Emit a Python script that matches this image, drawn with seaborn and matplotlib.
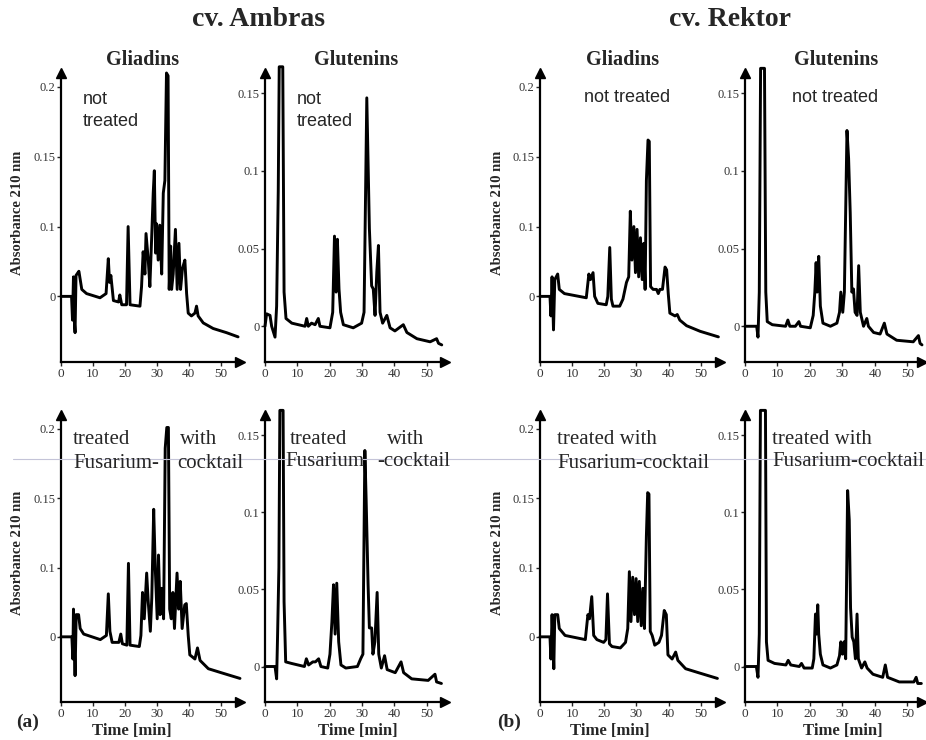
import matplotlib
matplotlib.use('Agg')
import matplotlib.pyplot as plt
from matplotlib.lines import Line2D
import seaborn as sns

sns.set_style('ticks')
plt.rcParams['font.family'] = ['Liberation Serif', 'DejaVu Serif']

# retention time [min] / absorbance 210 nm
# cv. Ambras - gliadins, not treated
amb_gli_nt_t = [0, 3.3, 3.6, 3.9, 4.1, 4.4, 4.7, 5.0, 5.6, 6.5, 8.0, 12.2, 14.1, 14.8, 15.2, 15.6, 16.4, 18.0, 18.4, 19.0,
                20.5, 21.0, 21.6, 24.7, 25.2, 25.7, 26.25, 26.6, 27.3, 27.8, 28.3, 28.85, 29.2, 29.6, 29.9, 30.4, 30.9, 31.5, 32.0, 32.5,
                33.0, 33.5, 33.85, 34.3, 34.6, 35.1, 35.8, 36.35, 36.9, 37.4, 38.0, 38.75, 39.3, 39.8, 40.8, 41.9, 42.4, 42.9, 44.5, 47.6,
                51.8, 55.4]
amb_gli_nt_a = [0.050, 0.050, 0.033, 0.064, 0.035, 0.024, 0.065, 0.066, 0.068, 0.055, 0.052, 0.049, 0.052, 0.077, 0.060, 0.065, 0.047, 0.046, 0.051, 0.044,
                0.044, 0.100, 0.044, 0.043, 0.057, 0.082, 0.066, 0.095, 0.076, 0.057, 0.088, 0.124, 0.140, 0.081, 0.102, 0.076, 0.101, 0.066, 0.124, 0.133,
                0.210, 0.208, 0.055, 0.086, 0.055, 0.066, 0.098, 0.055, 0.088, 0.055, 0.070, 0.076, 0.052, 0.038, 0.036, 0.038, 0.043, 0.036, 0.031, 0.027,
                0.024, 0.021]
# cv. Ambras - glutenins, not treated
amb_glu_nt_t = [0, 0.5, 1.55, 2.06, 3.1, 3.6, 4.1, 4.4, 5.5, 5.9, 6.5, 8.3, 12.4, 12.9, 13.4, 14.4, 15.5, 16.5, 17.0, 20.1,
                20.95, 21.5, 22.0, 22.4, 22.9, 23.4, 24.25, 27.3, 29.9, 30.65, 31.5, 32.3, 33.0, 33.5, 34.05, 34.6, 35.1, 35.6, 36.4, 37.7,
                38.7, 40.2, 42.8, 43.9, 47.0, 51.1, 53.1, 53.7, 54.7]
amb_glu_nt_a = [0.000, 0.008, 0.007, 0.000, -0.007, 0.013, 0.087, 0.167, 0.167, 0.022, 0.005, 0.002, 0.000, 0.005, 0.000, 0.002, 0.001, 0.005, 0.000, -0.001,
                0.009, 0.058, 0.022, 0.056, 0.024, 0.009, 0.001, -0.001, 0.002, 0.009, 0.147, 0.063, 0.026, 0.024, 0.007, 0.035, 0.052, 0.009, 0.002, 0.007,
                -0.001, -0.003, 0.001, -0.004, -0.008, -0.010, -0.008, -0.011, -0.012]
# cv. Ambras - gliadins, treated with Fusarium-cocktail
amb_gli_tr_t = [0, 3.4, 3.7, 3.9, 4.4, 4.75, 5.5, 6.0, 7.1, 12.3, 14.2, 14.8, 15.3, 16.0, 18.1, 18.7, 19.2, 20.6, 21.1, 21.6,
                24.5, 25.0, 25.5, 26.05, 26.8, 27.3, 27.95, 28.4, 29.0, 29.5, 30.1, 30.5, 31.0, 31.5, 32.1, 32.6, 33.1, 33.6, 34.0, 34.5,
                35.0, 35.5, 36.3, 36.8, 37.3, 37.9, 38.7, 39.2, 39.8, 40.3, 41.9, 42.7, 43.5, 46.1, 50.3, 56.0]
amb_gli_tr_a = [0.050, 0.050, 0.034, 0.070, 0.022, 0.066, 0.066, 0.056, 0.052, 0.048, 0.051, 0.081, 0.054, 0.046, 0.046, 0.052, 0.045, 0.044, 0.103, 0.044,
                0.043, 0.051, 0.082, 0.063, 0.096, 0.075, 0.054, 0.078, 0.142, 0.099, 0.063, 0.109, 0.066, 0.085, 0.063, 0.186, 0.201, 0.201, 0.070, 0.063,
                0.082, 0.056, 0.096, 0.070, 0.090, 0.056, 0.073, 0.074, 0.051, 0.037, 0.034, 0.042, 0.033, 0.027, 0.024, 0.020]
# cv. Ambras - glutenins, treated with Fusarium-cocktail
amb_glu_tr_t = [0, 3.1, 3.6, 3.9, 4.3, 4.6, 5.6, 5.9, 6.4, 8.2, 12.2, 12.8, 13.5, 14.8, 15.6, 16.6, 17.3, 19.4, 20.1, 20.7,
                21.2, 21.7, 22.2, 22.8, 23.5, 25.0, 28.6, 29.6, 30.3, 30.9, 31.3, 31.9, 32.3, 33.0, 33.4, 34.0, 34.7, 35.2, 36.0, 37.0,
                37.8, 40.3, 42.1, 42.9, 45.4, 50.5, 52.6, 53.1, 54.6]
amb_glu_tr_a = [0.000, 0.000, -0.008, 0.021, 0.064, 0.166, 0.166, 0.042, 0.003, 0.002, 0.000, 0.005, 0.001, 0.003, 0.003, 0.005, 0.000, -0.001, 0.008, 0.029,
                0.053, 0.021, 0.054, 0.016, 0.001, -0.001, 0.000, 0.005, 0.008, 0.140, 0.108, 0.053, 0.025, 0.025, 0.008, 0.016, 0.048, 0.008, -0.001, 0.007,
                -0.002, -0.004, 0.003, -0.004, -0.008, -0.009, -0.005, -0.010, -0.011]
# cv. Rektor - gliadins, not treated
rek_gli_nt_t = [0, 3.1, 3.4, 3.75, 4.2, 4.6, 5.5, 6.0, 7.6, 14.4, 15.2, 15.7, 16.5, 17.0, 18.0, 20.6, 21.1, 21.7, 22.2, 22.7,
                24.8, 25.8, 26.9, 27.6, 28.1, 28.6, 29.2, 29.7, 30.2, 30.7, 31.25, 31.8, 32.3, 32.7, 33.1, 33.6, 34.0, 34.4, 35.2, 36.25,
                36.8, 37.3, 38.1, 38.9, 39.4, 39.9, 40.4, 42.0, 42.7, 43.5, 45.6, 49.8, 55.5]
rek_gli_nt_a = [0.050, 0.050, 0.036, 0.064, 0.026, 0.062, 0.066, 0.055, 0.052, 0.049, 0.066, 0.062, 0.067, 0.050, 0.045, 0.044, 0.050, 0.085, 0.048, 0.043,
                0.043, 0.048, 0.060, 0.064, 0.111, 0.076, 0.100, 0.067, 0.098, 0.064, 0.092, 0.062, 0.088, 0.055, 0.133, 0.162, 0.161, 0.057, 0.055, 0.055,
                0.052, 0.055, 0.055, 0.071, 0.069, 0.052, 0.038, 0.036, 0.037, 0.033, 0.029, 0.025, 0.021]
# cv. Rektor - glutenins, not treated
rek_glu_nt_t = [0, 3.6, 4.0, 4.4, 4.8, 6.0, 6.4, 6.85, 8.4, 12.5, 13.2, 13.8, 15.5, 16.6, 17.1, 20.1, 21.0, 21.5, 21.9, 22.2,
                22.7, 23.2, 24.0, 26.3, 28.3, 29.1, 29.5, 30.1, 30.6, 31.4, 31.9, 32.4, 32.9, 33.4, 33.9, 34.5, 35.0, 35.5, 36.5, 37.5,
                38.0, 39.6, 41.6, 42.9, 43.7, 46.7, 51.8, 53.4, 53.9, 54.5]
rek_glu_nt_a = [0.000, 0.000, -0.007, 0.022, 0.166, 0.166, 0.022, 0.003, 0.001, 0.000, 0.004, 0.000, 0.000, 0.003, 0.000, -0.001, 0.007, 0.022, 0.041, 0.022,
                0.045, 0.013, 0.002, 0.000, 0.002, 0.009, 0.022, 0.009, 0.022, 0.126, 0.108, 0.073, 0.022, 0.024, 0.009, 0.007, 0.039, 0.009, 0.000, 0.005,
                0.000, -0.004, -0.005, 0.002, -0.005, -0.009, -0.010, -0.006, -0.011, -0.012]
# cv. Rektor - gliadins, treated with Fusarium-cocktail
rek_gli_tr_t = [0, 3.1, 3.4, 3.75, 4.3, 4.6, 5.5, 6.0, 7.8, 14.1, 14.9, 15.4, 16.1, 16.7, 17.7, 19.8, 20.5, 21.0, 21.6, 22.4,
                25.0, 26.6, 27.3, 27.8, 28.3, 28.85, 29.4, 29.9, 30.4, 30.9, 31.5, 32.0, 32.5, 33.1, 33.5, 33.9, 34.3, 34.9, 35.7, 37.0,
                37.8, 38.65, 39.3, 39.8, 41.1, 42.2, 42.9, 45.3, 49.5, 55.2]
rek_gli_tr_a = [0.050, 0.050, 0.034, 0.066, 0.027, 0.066, 0.066, 0.056, 0.051, 0.048, 0.066, 0.063, 0.079, 0.051, 0.048, 0.046, 0.048, 0.081, 0.045, 0.043,
                0.042, 0.046, 0.056, 0.097, 0.061, 0.093, 0.066, 0.092, 0.061, 0.090, 0.058, 0.085, 0.056, 0.123, 0.154, 0.153, 0.054, 0.051, 0.044, 0.046,
                0.051, 0.069, 0.066, 0.037, 0.034, 0.039, 0.033, 0.027, 0.024, 0.020]
# cv. Rektor - glutenins, treated with Fusarium-cocktail
rek_glu_tr_t = [0, 3.5, 4.0, 4.4, 4.75, 6.3, 6.6, 7.1, 9.1, 12.6, 13.3, 14.1, 16.7, 17.4, 18.2, 20.7, 21.2, 21.7, 22.0, 22.4,
                22.7, 23.2, 24.0, 26.3, 28.3, 29.1, 29.5, 30.0, 30.5, 31.0, 31.6, 32.1, 32.5, 33.0, 33.5, 34.0, 34.5, 34.9, 35.9, 36.9,
                37.6, 39.4, 42.4, 43.2, 43.9, 47.5, 52.0, 52.7, 53.2, 54.3]
rek_glu_tr_a = [0.000, 0.000, -0.007, 0.021, 0.166, 0.166, 0.016, 0.004, 0.002, 0.001, 0.004, 0.001, 0.000, 0.002, -0.001, -0.001, 0.005, 0.034, 0.021, 0.040,
                0.021, 0.008, 0.001, -0.001, 0.001, 0.007, 0.016, 0.008, 0.016, 0.005, 0.114, 0.095, 0.038, 0.019, 0.016, 0.005, 0.034, 0.005, -0.001, 0.003,
                -0.001, -0.005, -0.007, 0.001, -0.007, -0.010, -0.010, -0.007, -0.011, -0.011]

time_ticks = [0, 10, 20, 30, 40, 50]
gli_ticks = [0.05, 0.1, 0.15, 0.2]
gli_ticklabels = ['0', '0.1', '0.15', '0.2']
glu_ticks = [0, 0.05, 0.1, 0.15]
glu_ticklabels = ['0', '0.05', '0.1', '0.15']

W, H = 926, 740
fig = plt.figure(figsize=(W / 100, H / 100), dpi=100)


def fx(px):
    return px / W


def fy(py):
    return 1 - py / H


# pixel extents of each panel column / row
cols = [(61, 240), (265, 445), (540, 720), (745, 922)]
rows = [(73, 362), (415, 702)]
xmax = [56, 55.7, 56, 54.5]

panels = [
    (amb_gli_nt_t, amb_gli_nt_a, 0, 0), (amb_glu_nt_t, amb_glu_nt_a, 0, 1),
    (rek_gli_nt_t, rek_gli_nt_a, 0, 2), (rek_glu_nt_t, rek_glu_nt_a, 0, 3),
    (amb_gli_tr_t, amb_gli_tr_a, 1, 0), (amb_glu_tr_t, amb_glu_tr_a, 1, 1),
    (rek_gli_tr_t, rek_gli_tr_a, 1, 2), (rek_glu_tr_t, rek_glu_tr_a, 1, 3),
]

for t, a, r, c in panels:
    x0, x1 = cols[c]
    y0, y1 = rows[r]
    ax = fig.add_axes([fx(x0), fy(y1), (x1 - x0) / W, (y1 - y0) / H])
    sns.lineplot(x=t, y=a, ax=ax, color='black', linewidth=2.1, estimator=None, sort=False)
    for ln in ax.lines:
        ln.set_clip_on(False)
    gli = c in (0, 2)
    if gli:
        ax.set_ylim(0.003, 0.21)
        ax.set_yticks(gli_ticks)
        ax.set_yticklabels(gli_ticklabels)
    else:
        ax.set_ylim(-0.023, 0.163)
        ax.set_yticks(glu_ticks)
        ax.set_yticklabels(glu_ticklabels)
    ax.set_xlim(0, xmax[c])
    ax.set_xticks(time_ticks)
    ax.set_xticklabels([str(v) for v in time_ticks])
    sns.despine(ax=ax)
    for s in ('left', 'bottom'):
        ax.spines[s].set_linewidth(1.6)
        ax.spines[s].set_color('black')
    ax.plot(1, 0, '>k', transform=ax.transAxes, clip_on=False, markersize=7)
    ax.plot(0, 1, '^k', transform=ax.transAxes, clip_on=False, markersize=7)
    ax.tick_params(axis='y', direction='out', length=3, width=1, pad=1, labelsize=9, labelcolor='#333333')
    ax.tick_params(axis='x', direction='out', length=3, width=1, pad=1.5, labelsize=9.5, labelcolor='#333333')
    ax.set_xlabel('')
    ax.set_ylabel('')
    ax.patch.set_alpha(0)

# headings
fig.text(fx(258), fy(20), 'cv. Ambras', ha='center', va='center', fontsize=20, fontweight='bold')
fig.text(fx(730), fy(20), 'cv. Rektor', ha='center', va='center', fontsize=20, fontweight='bold')
for cx, name in [(143, 'Gliadins'), (356, 'Glutenins'), (623, 'Gliadins'), (836, 'Glutenins')]:
    fig.text(fx(cx), fy(60), name, ha='center', va='center', fontsize=14.5, fontweight='bold')

# axis titles
for lx in (18, 498):
    for ly in (213, 553):
        fig.text(fx(lx), fy(ly), 'Absorbance 210 nm', rotation=90, ha='center', va='center',
                 fontsize=10.5, fontweight='bold')
for cx in (132, 358, 610, 843):
    fig.text(fx(cx), fy(739), 'Time [min]', ha='center', va='bottom', fontsize=12, fontweight='bold')
fig.text(fx(28), fy(722), '(a)', ha='center', va='center', fontsize=14, fontweight='bold')
fig.text(fx(509), fy(722), '(b)', ha='center', va='center', fontsize=14, fontweight='bold')

# sample annotations
sans = ['Liberation Sans', 'DejaVu Sans']
for lx, ly, s in [(83, 99, 'not'), (83, 122, 'treated'), (297, 99, 'not'), (297, 122, 'treated'),
                  (584, 98, 'not treated'), (792, 98, 'not treated')]:
    fig.text(fx(lx), fy(ly), s, ha='left', va='center', fontsize=13, family=sans)
for lx, ly, s in [(73, 440, 'treated'), (180, 440, 'with'), (73, 463, 'Fusarium-'), (177, 463, 'cocktail'),
                  (290, 439, 'treated'), (387, 439, 'with'), (285, 462, 'Fusarium'), (377, 462, '-cocktail'),
                  (557, 439, 'treated with'), (557, 463, 'Fusarium-cocktail'),
                  (772, 439, 'treated with'), (772, 462, 'Fusarium-cocktail')]:
    fig.text(fx(lx), fy(ly), s, ha='left', va='center', fontsize=15)

# faint scan line across the page
fig.add_artist(Line2D([fx(13), 1.0], [fy(459), fy(459)], color='#c4c4d8', linewidth=0.8))

fig.savefig('out.png', dpi=100)
